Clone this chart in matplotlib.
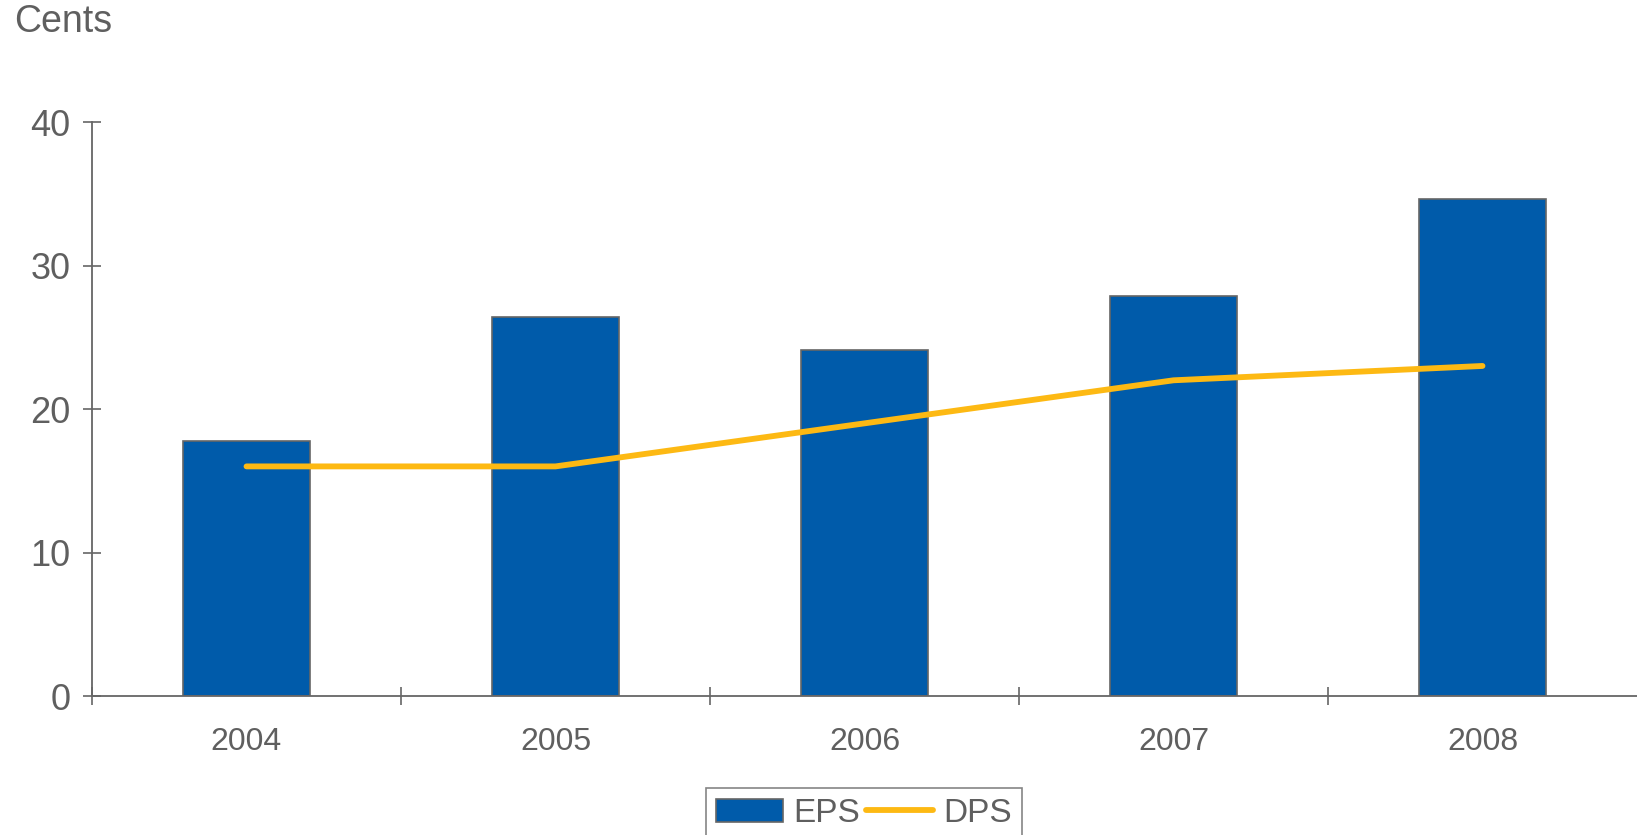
import numpy as np
import matplotlib
matplotlib.use('Agg')
import matplotlib.pyplot as plt

plt.rcParams['font.family'] = ['Liberation Sans', 'DejaVu Sans']

YEARS = ['2004', '2005', '2006', '2007', '2008']
EPS   = [17.8, 26.4, 24.1, 27.9, 34.6]
DPS   = [16.0, 16.0, 19.0, 22.0, 23.0]

BLUE   = '#005BAA'
YELLOW = '#FDB913'
GREY   = '#5f5f5f'
EDGE   = '#666666'

fig = plt.figure(figsize=(16.37, 8.35), dpi=100)
ax = fig.add_axes([92/1637, 1 - 696/835, 1 - 92/1637, (696 - 122)/835])

x = np.arange(len(YEARS))
bars = ax.bar(x, EPS, width=0.41, color=BLUE, edgecolor=EDGE, linewidth=1.2, label='EPS', zorder=2)
line, = ax.plot(x, DPS, color=YELLOW, linewidth=4.2, solid_capstyle='round', label='DPS', zorder=3)

ax.set_xlim(-0.5, 4.5)
ax.set_ylim(0, 40)

for s in ['top', 'right']:
    ax.spines[s].set_visible(False)
for s in ['left', 'bottom']:
    ax.spines[s].set_color(EDGE)
    ax.spines[s].set_linewidth(1.3)

# tick marks sit between the years, labels under the year centres
ax.set_xticks(np.arange(-0.5, 4.0, 1.0))
ax.set_xticklabels([])
ax.set_xticks(x, minor=True)
ax.set_xticklabels(YEARS, minor=True)
ax.tick_params(axis='x', which='major', direction='inout', length=13, width=1.2, color=EDGE)
ax.tick_params(axis='x', which='minor', length=0, pad=22, labelsize=23, labelcolor=GREY)

ax.set_yticks([0, 10, 20, 30, 40])
ax.tick_params(axis='y', direction='inout', length=13, width=1.2, color=EDGE,
               pad=9, labelsize=26, labelcolor=GREY)

fig.text(14/1637, 1 - 4/835, 'Cents', ha='left', va='top', fontsize=27, color=GREY)

leg = fig.legend([bars, line], ['EPS', 'DPS'], loc='upper center',
                 bbox_to_anchor=(864/1637, 1 - 788/835),
                 bbox_transform=fig.transFigure, ncol=2, frameon=True, fancybox=False,
                 fontsize=24, handlelength=2.0, handletextpad=0.3, columnspacing=0.2,
                 borderaxespad=0, borderpad=0.3)
leg.get_frame().set_edgecolor(EDGE)
leg.get_frame().set_linewidth(1.2)
for t in leg.get_texts():
    t.set_color(GREY)

fig.savefig('out.png', dpi=100)
